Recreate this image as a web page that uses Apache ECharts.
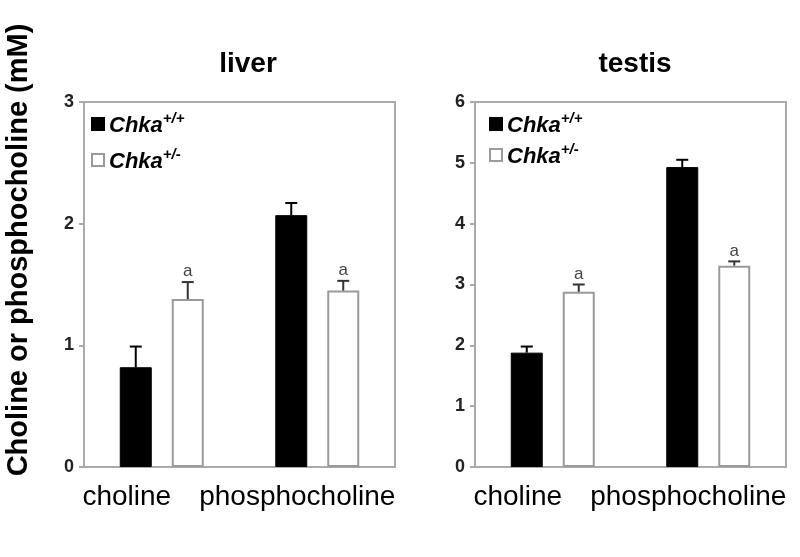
<!DOCTYPE html>
<html><head><meta charset="utf-8">
<script src="https://cdn.jsdelivr.net/npm/echarts@6/dist/echarts.min.js"></script>
<style>html,body{margin:0;padding:0;background:#fff}#c{width:800px;height:557px}</style>
</head><body><div id="c"></div>
<script>
const categories = ['choline', 'phosphocholine'];
const legendNames = ['Chka+/+', 'Chka+/-'];
const panelTitles = ['liver', 'testis'];
const yTitle = 'Choline or phosphocholine (mM)';
const yMax = [3, 6];
const liverWT = [0.82, 2.07];
const liverWTErr = [0.17, 0.10];
const liverHet = [1.38, 1.45];
const liverHetErr = [0.14, 0.08];
const testisWT = [1.88, 4.93];
const testisWTErr = [0.10, 0.12];
const testisHet = [2.88, 3.31];
const testisHetErr = [0.12, 0.07];
const liverSig = ['a', 'a'];
const testisSig = ['a', 'a'];

const chart = echarts.init(document.getElementById('c'));
const FONT = 'Liberation Sans, Arial, sans-serif';
const BARW = 32, OFF = 26;
const labelShift = [70, 40];

function errSeries(gi, vals, errs, sig, sign, color) {
  return {
    type: 'custom', xAxisIndex: gi, yAxisIndex: gi, z: 5, silent: true,
    data: vals.map((v, i) => [i, v, errs[i]]),
    renderItem: function (params, api) {
      const c = api.coord([api.value(0), api.value(1)]);
      const t = api.coord([api.value(0), api.value(1) + api.value(2)]);
      const x = c[0] + sign * OFF;
      const children = [
        {type: 'line', shape: {x1: x, y1: c[1], x2: x, y2: t[1]}, style: {stroke: color, lineWidth: 2}},
        {type: 'line', shape: {x1: x - 6, y1: t[1], x2: x + 6, y2: t[1]}, style: {stroke: color, lineWidth: 2}}
      ];
      if (sig && sig[params.dataIndex]) {
        children.push({type: 'text', style: {x: x, y: t[1] - 2, text: sig[params.dataIndex], fill: '#444',
          font: '17px ' + FONT, textAlign: 'center', textVerticalAlign: 'bottom'}});
      }
      return {type: 'group', children: children};
    }
  };
}

function barSeries(gi, name, vals, white) {
  return {
    type: 'bar', name: name, xAxisIndex: gi, yAxisIndex: gi, data: vals,
    barWidth: BARW, barGap: '62.5%',
    itemStyle: white ? {color: '#fff', borderColor: '#9a9a9a', borderWidth: 2} : {color: '#000', borderColor: '#000', borderWidth: 1}
  };
}

const grids = [
  {left: 84, width: 311, top: 102, height: 365},
  {left: 475, width: 311, top: 102, height: 365}
];
const legendFmt = function (name) { return '{i|Chka}{s|' + name.slice(4) + '}'; };
const legendRich = {
  i: {fontSize: 22, fontWeight: 'bold', fontStyle: 'italic', fontFamily: FONT, color: '#000', lineHeight: 26, verticalAlign: 'bottom'},
  s: {fontSize: 15, fontWeight: 'bold', fontStyle: 'italic', fontFamily: FONT, color: '#000', lineHeight: 26, verticalAlign: 'top', padding: [0, 0, 12, 0]}
};

chart.setOption({
  animation: false,
  title: [
    {text: panelTitles[0], left: 243, top: 45, textAlign: 'center', textStyle: {fontSize: 28, fontWeight: 'bold', fontFamily: FONT, color: '#000'}},
    {text: panelTitles[1], left: 630, top: 45, textAlign: 'center', textStyle: {fontSize: 28, fontWeight: 'bold', fontFamily: FONT, color: '#000'}}
  ],
  graphic: [{
    type: 'text', x: 19, y: 250, rotation: Math.PI / 2,
    style: {text: yTitle, font: 'bold 29px ' + FONT, fill: '#000', textAlign: 'center', textVerticalAlign: 'middle'}
  }],
  legend: [
    {data: legendNames, orient: 'vertical', left: 86, top: 106, itemWidth: 12, itemHeight: 12, itemGap: 9, icon: 'rect', formatter: legendFmt, textStyle: {rich: legendRich}, selectedMode: false},
    {data: legendNames, orient: 'vertical', left: 484, top: 106, itemWidth: 12, itemHeight: 12, itemGap: 4, icon: 'rect', formatter: legendFmt, textStyle: {rich: legendRich}, selectedMode: false}
  ],
  grid: grids.map(g => Object.assign({show: true, borderColor: '#aaa', borderWidth: 2, backgroundColor: 'transparent'}, g)),
  xAxis: [0, 1].map(gi => ({
    type: 'category', gridIndex: gi,
    data: categories.map((c, i) => ({value: c, textStyle: {padding: [0, labelShift[i], 0, 0]}})),
    axisLine: {lineStyle: {color: '#aaa', width: 2}}, axisTick: {show: false},
    axisLabel: {interval: 0, fontSize: 28, fontFamily: FONT, color: '#000', margin: 16}
  })),
  yAxis: [0, 1].map(gi => ({
    type: 'value', gridIndex: gi, min: 0, max: yMax[gi], interval: 1,
    axisLine: {show: true, lineStyle: {color: '#aaa', width: 2}},
    axisTick: {show: true, length: 5, lineStyle: {color: '#aaa', width: 2}},
    splitLine: {show: false},
    axisLabel: {fontSize: 18, fontWeight: 'bold', fontFamily: FONT, color: '#222', margin: 10}
  })),
  series: [
    barSeries(0, legendNames[0], liverWT, false),
    barSeries(0, legendNames[1], liverHet, true),
    barSeries(1, legendNames[0], testisWT, false),
    barSeries(1, legendNames[1], testisHet, true),
    errSeries(0, liverWT, liverWTErr, null, -1, '#000'),
    errSeries(0, liverHet, liverHetErr, liverSig, 1, '#333'),
    errSeries(1, testisWT, testisWTErr, null, -1, '#000'),
    errSeries(1, testisHet, testisHetErr, testisSig, 1, '#333')
  ]
});
</script></body></html>
